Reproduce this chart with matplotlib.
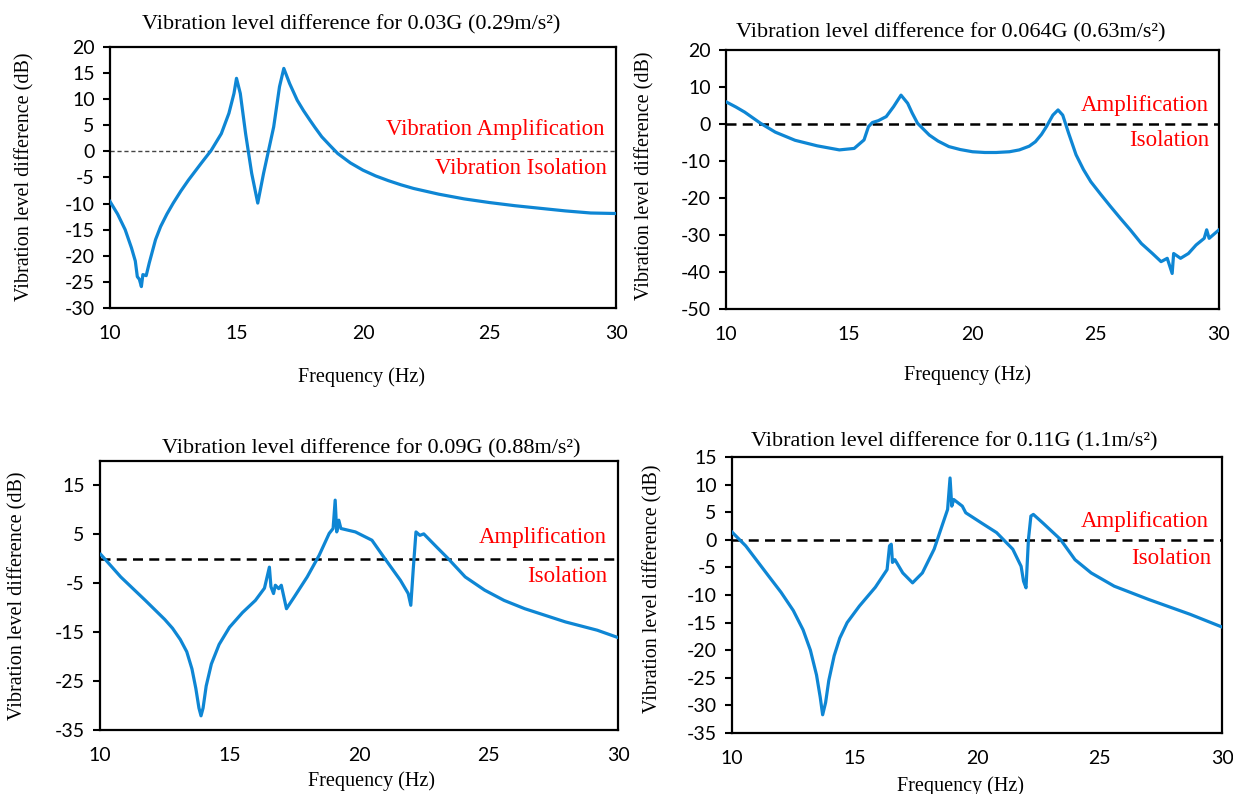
import matplotlib
matplotlib.use("Agg")
import matplotlib.pyplot as plt

plt.rcParams["axes.unicode_minus"] = False

# Datos (frecuencia en Hz, diferencia de nivel en dB)
f_003 = [10.0, 10.3, 10.6, 10.85, 11.0, 11.08, 11.16, 11.24, 11.3, 11.43,
         11.55, 11.8, 12.0, 12.25, 12.5, 12.8, 13.1, 13.6, 14.0, 14.4,
         14.7, 14.9, 15.0, 15.15, 15.36, 15.6, 15.84, 16.07, 16.47, 16.7,
         16.87, 17.1, 17.4, 17.65, 17.9, 18.1, 18.37, 18.7, 19.0, 19.5,
         20.0, 20.5, 21.0, 21.5, 22.0, 23.0, 24.0, 25.0, 26.0, 27.0,
         28.0, 29.0, 30.0]
v_003 = [-9.6, -12.0, -15.0, -18.5, -21.0, -24.0, -24.5, -25.9, -23.6, -23.8,
         -21.4, -16.9, -14.4, -12.0, -9.9, -7.6, -5.5, -2.3, 0.2, 3.4,
         7.3, 11.1, 14.0, 11.1, 3.4, -4.2, -9.9, -4.2, 4.7, 12.4,
         15.9, 13.0, 9.8, 7.8, 6.0, 4.6, 2.8, 1.1, -0.4, -2.2,
         -3.6, -4.7, -5.6, -6.4, -7.1, -8.2, -9.1, -9.8, -10.4, -10.9,
         -11.4, -11.8, -11.9]

f_0064 = [10.0, 10.4, 10.76, 11.4, 12.0, 12.8, 13.7, 14.6, 15.2, 15.6,
          15.78, 15.94, 16.18, 16.5, 16.8, 17.1, 17.37, 17.55, 17.77, 18.25,
          18.6, 19.04, 19.5, 20.0, 20.5, 20.96, 21.5, 21.9, 22.3, 22.55,
          22.8, 23.0, 23.26, 23.47, 23.66, 23.9, 24.2, 24.5, 24.8, 25.2,
          25.6, 26.0, 26.4, 26.85, 27.3, 27.65, 27.9, 28.1, 28.16, 28.44,
          28.76, 29.07, 29.4, 29.5, 29.6, 30.0]
v_0064 = [6.0, 4.6, 3.2, 0.2, -2.2, -4.4, -5.9, -7.0, -6.6, -4.3,
          -0.7, 0.4, 0.9, 2.0, 4.7, 7.8, 5.6, 3.0, 0.2, -3.0,
          -4.6, -6.1, -6.9, -7.5, -7.7, -7.7, -7.5, -7.0, -6.0, -4.8,
          -2.8, -0.7, 2.4, 3.8, 2.4, -2.5, -8.3, -12.3, -15.6, -19.0,
          -22.3, -25.5, -28.6, -32.3, -35.0, -37.2, -36.3, -40.4, -35.0, -36.3,
          -35.0, -32.7, -30.9, -28.6, -30.9, -28.6]

f_009 = [10.03, 10.8, 11.75, 12.0, 12.5, 12.8, 13.1, 13.35, 13.55, 13.7,
         13.82, 13.9, 13.98, 14.1, 14.3, 14.6, 15.0, 15.5, 16.0, 16.35,
         16.54, 16.6, 16.7, 16.77, 16.9, 17.0, 17.2, 17.5, 18.0, 18.46,
         18.85, 19.0, 19.08, 19.14, 19.22, 19.3, 19.86, 20.5, 20.95, 21.6,
         21.9, 22.0, 22.1, 22.2, 22.35, 22.5, 23.0, 23.45, 24.1, 24.85,
         25.6, 26.4, 27.97, 29.2, 30.0]
v_009 = [0.9, -3.7, -8.5, -9.8, -12.4, -14.2, -16.5, -19.0, -22.5, -26.5,
         -30.5, -32.1, -30.5, -26.0, -21.5, -17.5, -14.0, -11.0, -8.5, -6.0,
         -1.7, -5.7, -7.1, -5.4, -6.1, -5.4, -10.2, -7.8, -3.7, 0.7,
         5.2, 6.2, 12.0, 5.5, 7.9, 6.2, 5.5, 3.8, 0.4, -4.4,
         -7.1, -9.5, -1.7, 5.5, 4.8, 5.1, 2.4, 0.0, -3.7, -6.4,
         -8.5, -10.2, -12.9, -14.6, -16.1]

f_011 = [10.0, 10.56, 11.5, 12.0, 12.5, 12.9, 13.2, 13.45, 13.6, 13.7,
         13.82, 13.95, 14.17, 14.4, 14.7, 15.2, 15.85, 16.33, 16.43, 16.5,
         16.55, 16.65, 16.97, 17.37, 17.77, 18.25, 18.57, 18.8, 18.9, 18.97,
         19.05, 19.4, 19.54, 20.2, 20.8, 21.46, 21.8, 21.9, 22.0, 22.1,
         22.2, 22.3, 22.7, 23.4, 24.0, 24.66, 25.6, 27.0, 28.7, 30.0]
v_011 = [1.4, -1.1, -6.6, -9.5, -12.8, -16.3, -20.0, -24.5, -28.5, -31.7,
         -29.5, -25.5, -21.0, -17.8, -15.0, -12.0, -8.6, -5.4, -1.1, -0.8,
         -4.1, -3.6, -6.0, -7.8, -6.0, -1.7, 2.5, 5.5, 11.2, 6.1,
         7.3, 6.1, 4.9, 3.0, 1.3, -1.7, -4.8, -7.5, -8.7, 0.1,
         4.3, 4.6, 3.0, 0.1, -3.6, -6.0, -8.4, -10.8, -13.5, -15.8]

titles = ["Vibration level difference for 0.03G (0.29m/s²)",
          "Vibration level difference for 0.064G (0.63m/s²)",
          "Vibration level difference for 0.09G (0.88m/s²)",
          "Vibration level difference for 0.11G (1.1m/s²)"]
x_ticks = [10, 15, 20, 25, 30]
y_ticks = [list(range(-30, 21, 5)), list(range(-50, 21, 10)),
           list(range(-35, 16, 10)), list(range(-35, 16, 5))]
y_limits = [(-30, 20), (-50, 20), (-35, 20), (-35, 15)]
upper_labels = ["Vibration Amplification", "Amplification", "Amplification", "Amplification"]
lower_labels = ["Vibration Isolation", "Isolation", "Isolation", "Isolation"]

W, H = 1233, 794
SERIF = "Liberation Serif"
SANS = "Lato"
BLUE = "#0E86D4"

fig = plt.figure(figsize=(W / 100, H / 100), dpi=100)


def fx(x):
    return x / W


def fy(y):
    return 1 - y / H


# posiciones en píxeles: caja de ejes, título, etiquetas y textos rojos
boxes = [(110, 47, 616, 308), (726, 50, 1219, 309), (100, 461, 618, 730), (732, 457, 1222, 733)]
title_pos = [(351, 25), (951, 33), (371, 449), (954, 442)]
xlabel_pos = [(362, 377), (967, 375), (371, 781), (960, 786)]
ylabel_pos = [(25, 177), (645, 176), (18, 596), (653, 589)]
upper_pos = [(605, 130), (1209, 106), (607, 537), (1209, 522)]
lower_pos = [(607, 168), (1209, 140), (607, 577), (1211, 559)]

series = [(f_003, v_003), (f_0064, v_0064), (f_009, v_009), (f_011, v_011)]

for i, (f, v) in enumerate(series):
    x0, y0, x1, y1 = boxes[i]
    ax = fig.add_axes([fx(x0), fy(y1), (x1 - x0) / W, (y1 - y0) / H])
    ax.plot(f, v, color=BLUE, lw=2.3, solid_joinstyle="round", zorder=3)

    # línea de referencia en 0 dB
    if i == 0:
        ax.axhline(0, color="#444444", lw=1.0, ls=(0, (3, 2)), zorder=2)
    else:
        ax.axhline(0, color="black", lw=1.8, ls=(0, (4, 2.5)), zorder=2)

    ax.set_xlim(10, 30)
    ax.set_ylim(*y_limits[i])
    ax.set_xticks(x_ticks)
    ax.set_yticks(y_ticks[i])
    ax.tick_params(axis="x", length=0, pad=12, labelsize=14)
    ax.tick_params(axis="y", length=5, width=1.5, pad=6, labelsize=14, direction="out")
    for lab in ax.get_xticklabels() + ax.get_yticklabels():
        lab.set_fontfamily(SANS)
    for sp in ax.spines.values():
        sp.set_linewidth(1.6)
        sp.set_color("black")

    fig.text(fx(title_pos[i][0]), fy(title_pos[i][1]), titles[i], ha="center", va="center",
             family=SERIF, fontsize=16)
    fig.text(fx(xlabel_pos[i][0]), fy(xlabel_pos[i][1]), "Frequency (Hz)", ha="center", va="center",
             family=SERIF, fontsize=14.5)
    fig.text(fx(ylabel_pos[i][0]), fy(ylabel_pos[i][1]), "Vibration level difference (dB)",
             ha="center", va="center", rotation=90, family=SERIF, fontsize=14.5)
    fig.text(fx(upper_pos[i][0]), fy(upper_pos[i][1]), upper_labels[i], ha="right", va="center",
             family=SERIF, fontsize=16.5, color="red")
    fig.text(fx(lower_pos[i][0]), fy(lower_pos[i][1]), lower_labels[i], ha="right", va="center",
             family=SERIF, fontsize=16.5, color="red")

fig.savefig("out.png", dpi=100)
